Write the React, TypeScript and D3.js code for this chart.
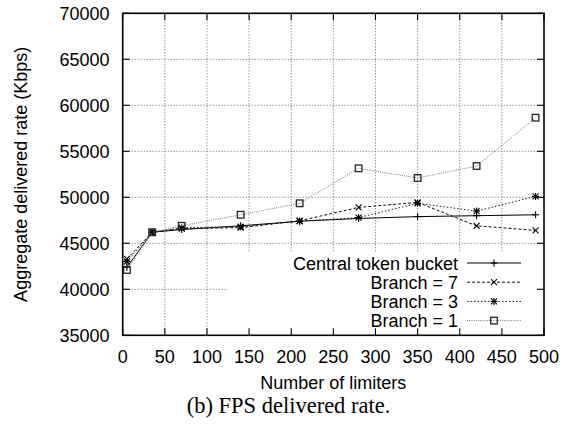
import React from 'react';
import * as d3 from 'd3';

const xValues = [5, 35, 70, 140, 210, 280, 350, 420, 490];
const centralValues = [42400, 46200, 46500, 46900, 47400, 47700, 47900, 48000, 48100];
const branch7Values = [43300, 46200, 46600, 46700, 47450, 48900, 49450, 46900, 46400];
const branch3Values = [43000, 46200, 46700, 46800, 47400, 47800, 49350, 48500, 50100];
const branch1Values = [42100, 46200, 46900, 48100, 49350, 53150, 52100, 53400, 58650];
const xTicks = [0, 50, 100, 150, 200, 250, 300, 350, 400, 450, 500];
const yTicks = [35000, 40000, 45000, 50000, 55000, 60000, 65000, 70000];
const seriesNames = ['Central token bucket', 'Branch = 7', 'Branch = 3', 'Branch = 1'];

const W = 566, H = 426;
const L = 122.7, R = 544, T = 13.3, B = 335.3;
const FONT = '"Liberation Sans", Arial, sans-serif';

type Marker = 'plus' | 'cross' | 'star' | 'square';

function MarkerShape({ kind, cx, cy, color }: { kind: Marker; cx: number; cy: number; color: string }) {
  const s = 3.5;
  const plus = (
    <g>
      <line x1={cx - s} x2={cx + s} y1={cy} y2={cy} />
      <line x1={cx} x2={cx} y1={cy - s} y2={cy + s} />
    </g>
  );
  const c = 3;
  const cross = (
    <g>
      <line x1={cx - c} x2={cx + c} y1={cy - c} y2={cy + c} />
      <line x1={cx - c} x2={cx + c} y1={cy + c} y2={cy - c} />
    </g>
  );
  let content: React.ReactNode = null;
  if (kind === 'plus') content = plus;
  else if (kind === 'cross') content = cross;
  else if (kind === 'star') content = <g>{plus}{cross}</g>;
  else content = <rect x={cx - 3.3} y={cy - 3.3} width={6.6} height={6.6} fill="none" />;
  return <g stroke={color} strokeWidth={kind === 'square' ? 1.3 : 1.1} fill="none">{content}</g>;
}

export default function App() {
  const x = d3.scaleLinear().domain([0, 500]).range([L, R]);
  const y = d3.scaleLinear().domain([35000, 70000]).range([B, T]);

  const series = [
    { name: seriesNames[0], values: centralValues, dash: undefined as string | undefined, color: '#000', lineColor: '#000', marker: 'plus' as Marker },
    { name: seriesNames[1], values: branch7Values, dash: '3,2', color: '#000', lineColor: '#111', marker: 'cross' as Marker },
    { name: seriesNames[2], values: branch3Values, dash: '1.5,2', color: '#000', lineColor: '#222', marker: 'star' as Marker },
    { name: seriesNames[3], values: branch1Values, dash: '1,1.2', color: '#222', lineColor: '#777', marker: 'square' as Marker },
  ];

  const line = d3.line<number>().x((_, i) => x(xValues[i])).y((v) => y(v));

  const legendTextX = 458;
  const legendLineX1 = 467, legendLineX2 = 521;
  const legendY0 = 263, legendDY = 19.2;

  return (
    <svg width={W} height={H} style={{ position: 'absolute', left: 0, top: 0, background: '#fff' }}>
      <rect x={0} y={0} width={W} height={H} fill="#fff" />
      {/* grid */}
      <g stroke="#555" strokeWidth={0.9} strokeDasharray="1,2">
        {xTicks.slice(1, -1).map((t) => (
          <line key={'gx' + t} x1={x(t)} x2={x(t)} y1={T} y2={B} />
        ))}
        {yTicks.slice(1, -1).map((t) => (
          <line key={'gy' + t} x1={L} x2={R} y1={y(t)} y2={y(t)} />
        ))}
      </g>
      {/* legend background */}
      <rect x={228} y={252.5} width={307} height={B - 252.5} fill="#fff" />
      {/* ticks */}
      <g stroke="#000" strokeWidth={1.1}>
        {xTicks.map((t) => (
          <g key={'tx' + t}>
            <line x1={x(t)} x2={x(t)} y1={B} y2={B - 7} />
            <line x1={x(t)} x2={x(t)} y1={T} y2={T + 7} />
          </g>
        ))}
        {yTicks.map((t) => (
          <g key={'ty' + t}>
            <line x1={L} x2={L + 7} y1={y(t)} y2={y(t)} />
            <line x1={R} x2={R - 7} y1={y(t)} y2={y(t)} />
          </g>
        ))}
      </g>
      {/* border */}
      <rect x={L} y={T} width={R - L} height={B - T} fill="none" stroke="#000" strokeWidth={1.6} />
      {/* tick labels */}
      <g fontFamily={FONT} fontSize={18} fill="#000">
        {xTicks.map((t) => (
          <text key={'lx' + t} x={x(t)} y={363} textAnchor="middle">{t}</text>
        ))}
        {yTicks.map((t) => (
          <text key={'ly' + t} x={109.5} y={y(t) + 6.3} textAnchor="end">{t}</text>
        ))}
      </g>
      {/* axis titles */}
      <text x={333.3} y={388.5} textAnchor="middle" fontFamily={FONT} fontSize={18}>Number of limiters</text>
      <text transform={`translate(27,${(T + B) / 2}) rotate(-90)`} textAnchor="middle" fontFamily={FONT} fontSize={18}>
        Aggregate delivered rate (Kbps)
      </text>
      {/* series */}
      {series.map((s) => (
        <g key={s.name}>
          <path d={line(s.values) || ''} fill="none" stroke={s.lineColor} strokeWidth={1} strokeDasharray={s.dash} />
          {s.values.map((v, i) => (
            <MarkerShape key={i} kind={s.marker} cx={x(xValues[i])} cy={y(v)} color={s.color} />
          ))}
        </g>
      ))}
      {/* legend */}
      {series.map((s, i) => {
        const ly = legendY0 + i * legendDY;
        return (
          <g key={'leg' + s.name}>
            <text x={legendTextX} y={ly + 6.5} textAnchor="end" fontFamily={FONT} fontSize={18}>{s.name}</text>
            <line x1={legendLineX1} x2={legendLineX2} y1={ly} y2={ly} stroke={s.lineColor} strokeWidth={1} strokeDasharray={s.dash} />
            <MarkerShape kind={s.marker} cx={(legendLineX1 + legendLineX2) / 2} cy={ly} color={s.color} />
          </g>
        );
      })}
      {/* caption */}
      <text x={288.5} y={412.5} textAnchor="middle" fontFamily={'"Liberation Serif", "Times New Roman", serif'} fontSize={22.5}>
        (b) FPS delivered rate.
      </text>
    </svg>
  );
}
